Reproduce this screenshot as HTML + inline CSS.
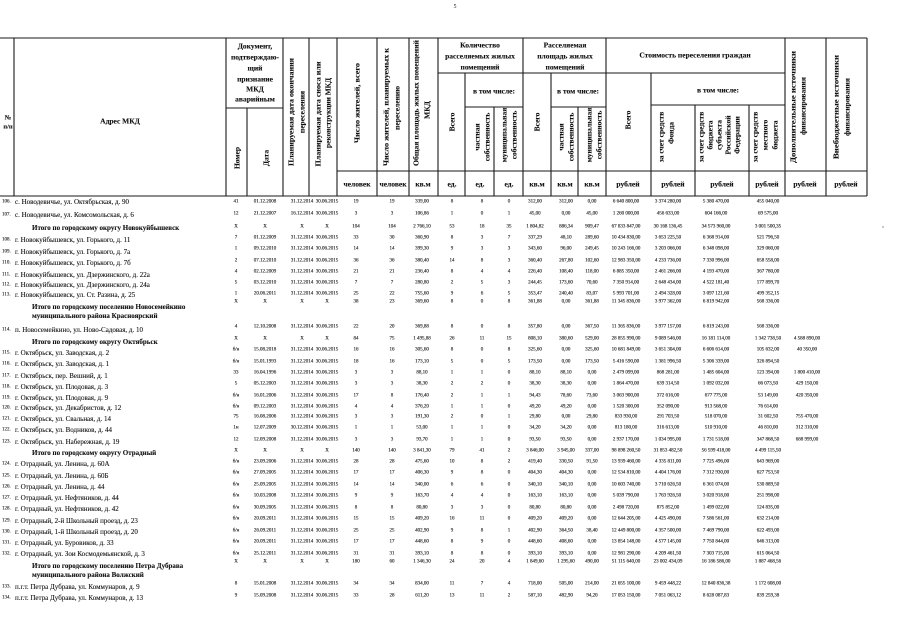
<!DOCTYPE html>
<html><head><meta charset="utf-8"><style>
html,body{margin:0;padding:0;background:#fff;}
svg{display:block;}
</style></head><body>
<svg width="905" height="640" viewBox="0 0 905 640" font-family="'Liberation Serif', serif">
<rect width="905" height="640" fill="#fff"/>
<text x="455" y="7" font-size="6" fill="#222" text-anchor="middle" dominant-baseline="central">5</text>

<!-- header lines -->
<g stroke="#1a1a1a" stroke-width="1.1" fill="none">
<line x1="0" y1="38" x2="867" y2="38"/>
<line x1="0" y1="196" x2="867" y2="196"/>
<line x1="337" y1="171" x2="867" y2="171"/>
<line x1="226" y1="108" x2="283" y2="108"/>
<line x1="438" y1="73" x2="785" y2="73"/>
<line x1="465" y1="107" x2="523" y2="107"/>
<line x1="551" y1="107" x2="606" y2="107"/>
<line x1="651" y1="105" x2="785" y2="105"/>
<line x1="14" y1="38" x2="14" y2="196"/>
<line x1="226" y1="38" x2="226" y2="196"/>
<line x1="283" y1="38" x2="283" y2="196"/>
<line x1="309" y1="38" x2="309" y2="196"/>
<line x1="337" y1="38" x2="337" y2="196"/>
<line x1="377" y1="38" x2="377" y2="196"/>
<line x1="409" y1="38" x2="409" y2="196"/>
<line x1="438" y1="38" x2="438" y2="196"/>
<line x1="523" y1="38" x2="523" y2="196"/>
<line x1="606" y1="38" x2="606" y2="196"/>
<line x1="785" y1="38" x2="785" y2="196"/>
<line x1="826" y1="38" x2="826" y2="196"/>
<line x1="867" y1="38" x2="867" y2="196"/>
<line x1="247" y1="108" x2="247" y2="196"/>
<line x1="465" y1="73" x2="465" y2="196"/>
<line x1="494" y1="107" x2="494" y2="196"/>
<line x1="551" y1="73" x2="551" y2="196"/>
<line x1="578" y1="107" x2="578" y2="196"/>
<line x1="651" y1="73" x2="651" y2="196"/>
<line x1="695" y1="105" x2="695" y2="196"/>
<line x1="749" y1="105" x2="749" y2="196"/>
</g>

<!-- header texts -->
<g font-weight="bold" font-size="7.5" fill="#111" text-anchor="middle" dominant-baseline="central" stroke="#111" stroke-width="0.12">
<text x="8" y="118" font-size="6.5">№</text>
<text x="8" y="127" font-size="6.5">п/п</text>
<text x="120" y="121">Адрес МКД</text>
<text x="255" y="46">Документ,</text>
<text x="255" y="57">подтверждаю-</text>
<text x="255" y="68">щий</text>
<text x="255" y="79">признание</text>
<text x="255" y="89">МКД</text>
<text x="255" y="99">аварийным</text>
<text transform="translate(237,158) rotate(-90)">Номер</text>
<text transform="translate(266,158) rotate(-90)">Дата</text>
<text transform="translate(291,112) rotate(-90)" textLength="108" lengthAdjust="spacingAndGlyphs">Планируемая дата  окончания</text>
<text transform="translate(302,112) rotate(-90)">переселения</text>
<text transform="translate(318,114) rotate(-90)" textLength="105" lengthAdjust="spacingAndGlyphs">Планируемая дата сноса или</text>
<text transform="translate(328,113) rotate(-90)" textLength="70" lengthAdjust="spacingAndGlyphs">реконструкции МКД</text>
<text transform="translate(357,103) rotate(-90)" textLength="80" lengthAdjust="spacingAndGlyphs">Число жителей, всего</text>
<text transform="translate(386,107) rotate(-90)" textLength="118" lengthAdjust="spacingAndGlyphs">Число жителей, планируемых к</text>
<text transform="translate(397,108) rotate(-90)">переселению</text>
<text transform="translate(416,103) rotate(-90)" textLength="126" lengthAdjust="spacingAndGlyphs">Общая площадь жилых помещений</text>
<text transform="translate(427,110) rotate(-90)">МКД</text>

<text x="480" y="45">Количество</text>
<text x="480" y="56">расселяемых жилых</text>
<text x="480" y="67">помещений</text>
<text transform="translate(452,122) rotate(-90)">Всего</text>
<text x="494" y="91">в том числе:</text>
<text transform="translate(477,137) rotate(-90)">частная</text>
<text transform="translate(487,137) rotate(-90)">собственность</text>
<text transform="translate(504,135) rotate(-90)">муниципальная</text>
<text transform="translate(514,135) rotate(-90)">собственность</text>

<text x="565" y="45">Расселяемая</text>
<text x="565" y="56">площадь жилых</text>
<text x="565" y="67">помещений</text>
<text transform="translate(537,122) rotate(-90)">Всего</text>
<text x="578" y="91">в том числе:</text>
<text transform="translate(561,137) rotate(-90)">частная</text>
<text transform="translate(571,137) rotate(-90)">собственность</text>
<text transform="translate(589,135) rotate(-90)">муниципальная</text>
<text transform="translate(599,135) rotate(-90)">собственность</text>

<text x="695" y="55">Стоимость переселения граждан</text>
<text transform="translate(628,120) rotate(-90)">Всего</text>
<text x="718" y="90">в том числе:</text>
<text transform="translate(661,137) rotate(-90)">за счет средств</text>
<text transform="translate(671,133) rotate(-90)">Фонда</text>
<text transform="translate(701,137) rotate(-90)">за счет средств</text>
<text transform="translate(710,135) rotate(-90)">бюджета</text>
<text transform="translate(719,135) rotate(-90)">субъекта</text>
<text transform="translate(728,135) rotate(-90)">Российской</text>
<text transform="translate(737,135) rotate(-90)">Федерации</text>
<text transform="translate(755,137) rotate(-90)">за счет средств</text>
<text transform="translate(765,135) rotate(-90)">местного</text>
<text transform="translate(775,135) rotate(-90)">бюджета</text>
<text transform="translate(793,107) rotate(-90)" textLength="112" lengthAdjust="spacingAndGlyphs">Дополнительные источники</text>
<text transform="translate(803,106) rotate(-90)">финансирования</text>
<text transform="translate(836,107) rotate(-90)" textLength="104" lengthAdjust="spacingAndGlyphs">Внебюджетные источники</text>
<text transform="translate(847,107) rotate(-90)">финансирования</text>

<g font-size="7.5">
<text x="357" y="184">человек</text>
<text x="393" y="184">человек</text>
<text x="423" y="184">кв.м</text>
<text x="452" y="184">ед.</text>
<text x="480" y="184">ед.</text>
<text x="509" y="184">ед.</text>
<text x="537" y="184">кв.м</text>
<text x="565" y="184">кв.м</text>
<text x="592" y="184">кв.м</text>
<text x="628" y="184">рублей</text>
<text x="673" y="184">рублей</text>
<text x="722" y="184">рублей</text>
<text x="767" y="184">рублей</text>
<text x="805" y="184">рублей</text>
<text x="846" y="184">рублей</text>
</g>
</g>

<!-- address column -->
<g font-size="7" fill="#111" dominant-baseline="central" stroke="#111" stroke-width="0.1">
<g font-size="5"><text x="2" y="202">106.</text><text x="2" y="215">107.</text><text x="2" y="240">108.</text><text x="2" y="252">109.</text><text x="2" y="263">110.</text><text x="2" y="275">111.</text><text x="2" y="285">112.</text><text x="2" y="295">113.</text><text x="2" y="330">114.</text><text x="2" y="353">115.</text><text x="2" y="364">116.</text><text x="2" y="376">117.</text><text x="2" y="387">118.</text><text x="2" y="398">119.</text><text x="2" y="408">120.</text><text x="2" y="419">121.</text><text x="2" y="430">122.</text><text x="2" y="442">123.</text><text x="2" y="464">124.</text><text x="2" y="476">125.</text><text x="2" y="487">126.</text><text x="2" y="498">127.</text><text x="2" y="509">128.</text><text x="2" y="521">129.</text><text x="2" y="532">130.</text><text x="2" y="543">131.</text><text x="2" y="554">132.</text><text x="2" y="587">133.</text><text x="2" y="598">134.</text></g>
<text x="15" y="202">с. Новодевичье, ул. Октябрьская, д.  90</text>
<text x="15" y="215">с. Новодевичье, ул. Комсомольская, д. 6</text>
<text x="32" y="228" font-weight="bold">Итого по  городскому округу Новокуйбышевск</text>
<text x="15" y="240">г. Новокуйбышевск, ул.  Горького, д.  11</text>
<text x="15" y="252">г. Новокуйбышевск, ул. Горького, д.  7а</text>
<text x="15" y="263">г. Новокуйбышевск, ул. Горького, д.  7б</text>
<text x="15" y="275">г. Новокуйбышевск, ул. Дзержинского, д.  22а</text>
<text x="15" y="285">г. Новокуйбышевск, ул. Дзержинского, д. 24а</text>
<text x="15" y="295">г. Новокуйбышевск, ул.  Ст. Разина, д.  25</text>
<text x="32" y="307" font-weight="bold">Итого по городскому поселению Новосемейкино</text>
<text x="32" y="316" font-weight="bold">муниципального района Красноярский</text>
<text x="15" y="330">п. Новосемейкино, ул. Ново-Садовая, д.  10</text>
<text x="32" y="342" font-weight="bold">Итого по городскому округу Октябрьск</text>
<text x="15" y="353">г. Октябрьск, ул.  Заводская, д.  2</text>
<text x="15" y="364">г. Октябрьск, ул.  Заводская, д.  1</text>
<text x="15" y="376">г. Октябрьск, пер.  Вешний, д.  1</text>
<text x="15" y="387">г. Октябрьск, ул.  Плодовая, д.  3</text>
<text x="15" y="398">г. Октябрьск, ул.  Плодовая, д.  9</text>
<text x="15" y="408">г. Октябрьск, ул.  Декабристов, д. 12</text>
<text x="15" y="419">г. Октябрьск, ул.  Свальная, д.  14</text>
<text x="15" y="430">г. Октябрьск, ул.  Водников, д.  44</text>
<text x="15" y="442">г. Октябрьск, ул.  Набережная, д.  19</text>
<text x="32" y="453" font-weight="bold">Итого по городскому округу  Отрадный</text>
<text x="15" y="464">г. Отрадный, ул. Ленина, д.  60А</text>
<text x="15" y="476">г. Отрадный, ул. Ленина, д.  60Б</text>
<text x="15" y="487">г. Отрадный, ул.  Ленина, д.  44</text>
<text x="15" y="498">г. Отрадный, ул.  Нефтяников, д.  44</text>
<text x="15" y="509">г. Отрадный, ул.  Нефтяников, д.  42</text>
<text x="15" y="521">г. Отрадный, 2-й Школьный проезд, д.  23</text>
<text x="15" y="532">г. Отрадный, 1-й Школьный проезд, д.  20</text>
<text x="15" y="543">г. Отрадный, ул. Буровиков, д.  33</text>
<text x="15" y="554">г. Отрадный, ул. Зои Космодемьянской, д.  3</text>
<text x="32" y="566" font-weight="bold">Итого по городскому поселению Петра Дубрава</text>
<text x="32" y="575" font-weight="bold">муниципального района Волжский</text>
<text x="15" y="587">п.г.т. Петра Дубрава, ул. Коммунаров, д. 9</text>
<text x="15" y="598">п.г.т. Петра Дубрава, ул. Коммунаров, д. 13</text>
</g>

<!-- numeric data -->
<g font-size="5" fill="#151515" text-anchor="middle" dominant-baseline="central" stroke="#151515" stroke-width="0.12">
<g transform="translate(0,202)"><text x="236">41</text><text x="265">01.12.2008</text><text x="302">31.12.2014</text><text x="327">30.06.2015</text><text x="356">19</text><text x="392">19</text><text x="422">339,00</text><text x="452">8</text><text x="482">8</text><text x="509">0</text><text x="535">312,00</text><text x="566">312,00</text><text x="592">0,00</text><text x="626">6 640 800,00</text><text x="668">3 374 280,00</text><text x="716">5 380 470,00</text><text x="768">455 040,00</text></g>
<g transform="translate(0,214)"><text x="236">12</text><text x="265">21.12.2007</text><text x="302">16.12.2014</text><text x="327">30.06.2015</text><text x="356">3</text><text x="392">3</text><text x="422">106,86</text><text x="452">1</text><text x="482">0</text><text x="509">1</text><text x="535">45,00</text><text x="566">0,00</text><text x="592">45,00</text><text x="626">1 260 000,00</text><text x="668">456 633,00</text><text x="716">604 166,00</text><text x="768">69 575,00</text></g>
<g transform="translate(0,227)"><text x="236">X</text><text x="265">X</text><text x="302">X</text><text x="327">X</text><text x="356">104</text><text x="392">104</text><text x="422">2 766,10</text><text x="452">53</text><text x="482">18</text><text x="509">35</text><text x="535">1 804,82</text><text x="566">886,34</text><text x="592">909,47</text><text x="626">67 833 847,00</text><text x="668">30 168 136,45</text><text x="716">34 573 960,00</text><text x="768">3 001 500,35</text></g>
<g transform="translate(0,238)"><text x="236">7</text><text x="265">01.12.2009</text><text x="302">31.12.2014</text><text x="327">30.06.2015</text><text x="356">33</text><text x="392">30</text><text x="422">360,90</text><text x="452">8</text><text x="482">3</text><text x="509">7</text><text x="535">337,29</text><text x="566">48,10</text><text x="592">289,60</text><text x="626">10 434 830,00</text><text x="668">3 653 225,50</text><text x="716">6 368 914,00</text><text x="768">521 796,50</text></g>
<g transform="translate(0,249)"><text x="236">1</text><text x="265">09.12.2010</text><text x="302">31.12.2014</text><text x="327">30.06.2015</text><text x="356">14</text><text x="392">14</text><text x="422">399,30</text><text x="452">9</text><text x="482">3</text><text x="509">3</text><text x="535">343,60</text><text x="566">96,00</text><text x="592">249,45</text><text x="626">10 243 166,00</text><text x="668">3 203 066,00</text><text x="716">6 348 098,00</text><text x="768">329 060,00</text></g>
<g transform="translate(0,261)"><text x="236">2</text><text x="265">07.12.2010</text><text x="302">31.12.2014</text><text x="327">30.06.2015</text><text x="356">36</text><text x="392">36</text><text x="422">380,40</text><text x="452">14</text><text x="482">8</text><text x="509">3</text><text x="535">360,40</text><text x="566">267,80</text><text x="592">102,60</text><text x="626">12 983 350,00</text><text x="668">4 233 736,00</text><text x="716">7 330 996,00</text><text x="768">658 558,00</text></g>
<g transform="translate(0,272)"><text x="236">4</text><text x="265">02.12.2009</text><text x="302">31.12.2014</text><text x="327">30.06.2015</text><text x="356">21</text><text x="392">21</text><text x="422">236,40</text><text x="452">8</text><text x="482">4</text><text x="509">4</text><text x="535">226,40</text><text x="566">108,40</text><text x="592">118,00</text><text x="626">6 885 350,00</text><text x="668">2 461 266,00</text><text x="716">4 193 470,00</text><text x="768">367 780,00</text></g>
<g transform="translate(0,283)"><text x="236">5</text><text x="265">03.12.2010</text><text x="302">31.12.2014</text><text x="327">30.06.2015</text><text x="356">7</text><text x="392">7</text><text x="422">280,80</text><text x="452">2</text><text x="482">5</text><text x="509">3</text><text x="535">244,45</text><text x="566">173,60</text><text x="592">70,60</text><text x="626">7 350 914,00</text><text x="668">2 648 434,00</text><text x="716">4 522 181,40</text><text x="768">177 899,70</text></g>
<g transform="translate(0,294)"><text x="236">1</text><text x="265">20.06.2011</text><text x="302">31.12.2014</text><text x="327">30.06.2015</text><text x="356">25</text><text x="392">22</text><text x="422">755,60</text><text x="452">9</text><text x="482">6</text><text x="509">5</text><text x="535">353,47</text><text x="566">240,40</text><text x="592">83,07</text><text x="626">5 993 701,00</text><text x="668">2 494 328,00</text><text x="716">3 097 121,60</text><text x="768">499 352,15</text></g>
<g transform="translate(0,302)"><text x="236">X</text><text x="265">X</text><text x="302">X</text><text x="327">X</text><text x="356">38</text><text x="392">23</text><text x="422">369,60</text><text x="452">8</text><text x="482">0</text><text x="509">8</text><text x="535">361,88</text><text x="566">0,00</text><text x="592">361,88</text><text x="626">11 345 836,00</text><text x="668">3 977 362,00</text><text x="716">6 819 942,00</text><text x="768">568 336,00</text></g>
<g transform="translate(0,327)"><text x="236">4</text><text x="265">12.10.2008</text><text x="302">31.12.2014</text><text x="327">30.06.2015</text><text x="356">22</text><text x="392">20</text><text x="422">369,88</text><text x="452">8</text><text x="482">0</text><text x="509">8</text><text x="535">357,80</text><text x="566">0,00</text><text x="592">367,50</text><text x="626">11 365 836,00</text><text x="668">3 977 157,00</text><text x="716">6 819 243,00</text><text x="768">568 336,00</text></g>
<g transform="translate(0,339)"><text x="236">X</text><text x="265">X</text><text x="302">X</text><text x="327">X</text><text x="356">84</text><text x="392">75</text><text x="422">1 495,88</text><text x="452">26</text><text x="482">11</text><text x="509">15</text><text x="535">808,10</text><text x="566">380,60</text><text x="592">529,00</text><text x="626">28 855 990,00</text><text x="668">9 089 546,00</text><text x="716">16 181 114,00</text><text x="768">1 342 738,50</text><text x="807">4 588 890,00</text></g>
<g transform="translate(0,350)"><text x="236">б/н</text><text x="265">15.08.2018</text><text x="302">31.12.2014</text><text x="327">30.06.2015</text><text x="356">16</text><text x="392">16</text><text x="422">305,60</text><text x="452">8</text><text x="482">0</text><text x="509">8</text><text x="535">325,60</text><text x="566">0,00</text><text x="592">325,60</text><text x="626">10 681 849,00</text><text x="668">3 651 304,00</text><text x="716">6 606 614,00</text><text x="768">105 632,00</text><text x="807">40 350,00</text></g>
<g transform="translate(0,362)"><text x="236">б/н</text><text x="265">15.01.1993</text><text x="302">31.12.2014</text><text x="327">30.06.2015</text><text x="356">18</text><text x="392">16</text><text x="422">173,10</text><text x="452">5</text><text x="482">0</text><text x="509">5</text><text x="535">173,50</text><text x="566">0,00</text><text x="592">173,50</text><text x="626">5 416 590,00</text><text x="668">1 381 996,50</text><text x="716">5 306 339,00</text><text x="768">326 894,50</text></g>
<g transform="translate(0,373)"><text x="236">33</text><text x="265">16.04.1996</text><text x="302">31.12.2014</text><text x="327">30.06.2015</text><text x="356">3</text><text x="392">3</text><text x="422">88,10</text><text x="452">1</text><text x="482">1</text><text x="509">0</text><text x="535">88,10</text><text x="566">88,10</text><text x="592">0,00</text><text x="626">2 479 099,00</text><text x="668">868 281,00</text><text x="716">1 485 604,00</text><text x="768">123 394,00</text><text x="807">1 800 410,00</text></g>
<g transform="translate(0,384)"><text x="236">5</text><text x="265">05.12.2003</text><text x="302">31.12.2014</text><text x="327">30.06.2015</text><text x="356">3</text><text x="392">3</text><text x="422">38,30</text><text x="452">2</text><text x="482">2</text><text x="509">0</text><text x="535">38,30</text><text x="566">38,30</text><text x="592">0,00</text><text x="626">1 864 470,00</text><text x="668">639 314,50</text><text x="716">1 092 032,00</text><text x="768">66 073,50</text><text x="807">429 150,00</text></g>
<g transform="translate(0,396)"><text x="236">б/н</text><text x="265">16.01.2006</text><text x="302">31.12.2014</text><text x="327">30.06.2015</text><text x="356">17</text><text x="392">8</text><text x="422">176,40</text><text x="452">2</text><text x="482">1</text><text x="509">1</text><text x="535">94,43</text><text x="566">78,60</text><text x="592">73,60</text><text x="626">3 063 900,00</text><text x="668">372 616,00</text><text x="716">677 775,00</text><text x="768">53 149,00</text><text x="807">420 350,00</text></g>
<g transform="translate(0,407)"><text x="236">б/н</text><text x="265">09.12.2003</text><text x="302">31.12.2014</text><text x="327">30.06.2015</text><text x="356">4</text><text x="392">4</text><text x="422">376,20</text><text x="452">1</text><text x="482">1</text><text x="509">0</text><text x="535">49,20</text><text x="566">49,20</text><text x="592">0,00</text><text x="626">1 520 300,00</text><text x="668">352 090,00</text><text x="716">913 568,00</text><text x="768">76 614,00</text></g>
<g transform="translate(0,417)"><text x="236">75</text><text x="265">16.08.2006</text><text x="302">31.12.2014</text><text x="327">30.06.2015</text><text x="356">3</text><text x="392">3</text><text x="422">191,30</text><text x="452">2</text><text x="482">0</text><text x="509">1</text><text x="535">29,80</text><text x="566">0,00</text><text x="592">29,80</text><text x="626">833 930,00</text><text x="668">291 703,50</text><text x="716">518 070,00</text><text x="768">31 602,50</text><text x="807">755 470,00</text></g>
<g transform="translate(0,428)"><text x="236">1н</text><text x="265">12.07.2009</text><text x="302">30.12.2014</text><text x="327">30.06.2015</text><text x="356">1</text><text x="392">1</text><text x="422">53,00</text><text x="452">1</text><text x="482">1</text><text x="509">0</text><text x="535">34,20</text><text x="566">34,20</text><text x="592">0,00</text><text x="626">813 180,00</text><text x="668">316 613,00</text><text x="716">510 910,00</text><text x="768">46 810,00</text><text x="807">312 310,00</text></g>
<g transform="translate(0,440)"><text x="236">12</text><text x="265">12.09.2008</text><text x="302">31.12.2014</text><text x="327">30.06.2015</text><text x="356">3</text><text x="392">3</text><text x="422">93,70</text><text x="452">1</text><text x="482">1</text><text x="509">0</text><text x="535">93,50</text><text x="566">93,50</text><text x="592">0,00</text><text x="626">2 937 170,00</text><text x="668">1 034 995,00</text><text x="716">1 731 518,00</text><text x="768">347 868,50</text><text x="807">688 999,00</text></g>
<g transform="translate(0,451)"><text x="236">X</text><text x="265">X</text><text x="302">X</text><text x="327">X</text><text x="356">140</text><text x="392">140</text><text x="422">3 841,30</text><text x="452">79</text><text x="482">41</text><text x="509">2</text><text x="535">3 846,00</text><text x="566">3 945,00</text><text x="592">337,00</text><text x="626">98 898 260,50</text><text x="668">31 853 482,50</text><text x="716">56 599 418,00</text><text x="768">4 499 115,50</text></g>
<g transform="translate(0,462)"><text x="236">б/н</text><text x="265">23.09.2006</text><text x="302">31.12.2014</text><text x="327">30.06.2015</text><text x="356">28</text><text x="392">28</text><text x="422">475,60</text><text x="452">10</text><text x="482">8</text><text x="509">2</text><text x="535">419,40</text><text x="566">330,50</text><text x="592">91,50</text><text x="626">13 939 460,00</text><text x="668">4 335 811,00</text><text x="716">7 725 496,00</text><text x="768">643 969,00</text></g>
<g transform="translate(0,473)"><text x="236">б/н</text><text x="265">27.09.2005</text><text x="302">31.12.2014</text><text x="327">30.06.2015</text><text x="356">17</text><text x="392">17</text><text x="422">406,30</text><text x="452">9</text><text x="482">8</text><text x="509">0</text><text x="535">404,30</text><text x="566">404,30</text><text x="592">0,00</text><text x="626">12 534 810,00</text><text x="668">4 404 176,00</text><text x="716">7 312 930,00</text><text x="768">627 753,50</text></g>
<g transform="translate(0,485)"><text x="236">б/н</text><text x="265">25.09.2005</text><text x="302">31.12.2014</text><text x="327">30.06.2015</text><text x="356">14</text><text x="392">14</text><text x="422">340,00</text><text x="452">6</text><text x="482">6</text><text x="509">0</text><text x="535">340,10</text><text x="566">340,10</text><text x="592">0,00</text><text x="626">10 603 740,00</text><text x="668">3 710 626,50</text><text x="716">6 361 074,00</text><text x="768">530 889,50</text></g>
<g transform="translate(0,496)"><text x="236">б/н</text><text x="265">10.03.2008</text><text x="302">31.12.2014</text><text x="327">30.06.2015</text><text x="356">9</text><text x="392">9</text><text x="422">163,70</text><text x="452">4</text><text x="482">4</text><text x="509">0</text><text x="535">163,10</text><text x="566">163,10</text><text x="592">0,00</text><text x="626">5 039 790,00</text><text x="668">1 763 926,50</text><text x="716">3 020 918,00</text><text x="768">251 998,00</text></g>
<g transform="translate(0,508)"><text x="236">б/н</text><text x="265">30.09.2005</text><text x="302">31.12.2014</text><text x="327">30.06.2015</text><text x="356">8</text><text x="392">8</text><text x="422">80,80</text><text x="452">3</text><text x="482">3</text><text x="509">0</text><text x="535">80,80</text><text x="566">80,80</text><text x="592">0,00</text><text x="626">2 498 720,00</text><text x="668">875 852,00</text><text x="716">1 499 022,00</text><text x="768">124 835,00</text></g>
<g transform="translate(0,519)"><text x="236">б/н</text><text x="265">20.09.2011</text><text x="302">31.12.2014</text><text x="327">30.06.2015</text><text x="356">15</text><text x="392">15</text><text x="422">409,20</text><text x="452">16</text><text x="482">11</text><text x="509">0</text><text x="535">409,20</text><text x="566">409,20</text><text x="592">0,00</text><text x="626">12 644 205,00</text><text x="668">4 425 490,00</text><text x="716">7 586 561,00</text><text x="768">632 214,00</text></g>
<g transform="translate(0,531)"><text x="236">б/н</text><text x="265">26.09.2011</text><text x="302">31.12.2014</text><text x="327">30.06.2015</text><text x="356">25</text><text x="392">25</text><text x="422">402,90</text><text x="452">9</text><text x="482">8</text><text x="509">1</text><text x="535">402,90</text><text x="566">364,50</text><text x="592">38,40</text><text x="626">12 449 800,00</text><text x="668">4 357 500,00</text><text x="716">7 469 790,00</text><text x="768">622 493,00</text></g>
<g transform="translate(0,542)"><text x="236">б/н</text><text x="265">20.09.2011</text><text x="302">31.12.2014</text><text x="327">30.06.2015</text><text x="356">17</text><text x="392">17</text><text x="422">448,60</text><text x="452">8</text><text x="482">9</text><text x="509">0</text><text x="535">448,60</text><text x="566">408,60</text><text x="592">0,00</text><text x="626">13 854 148,00</text><text x="668">4 577 145,00</text><text x="716">7 750 844,00</text><text x="768">646 313,00</text></g>
<g transform="translate(0,554)"><text x="236">б/н</text><text x="265">25.12.2011</text><text x="302">31.12.2014</text><text x="327">30.06.2015</text><text x="356">31</text><text x="392">31</text><text x="422">393,10</text><text x="452">8</text><text x="482">8</text><text x="509">0</text><text x="535">393,10</text><text x="566">393,10</text><text x="592">0,00</text><text x="626">12 981 290,00</text><text x="668">4 209 461,50</text><text x="716">7 303 715,00</text><text x="768">615 064,50</text></g>
<g transform="translate(0,562)"><text x="236">X</text><text x="265">X</text><text x="302">X</text><text x="327">X</text><text x="356">180</text><text x="392">60</text><text x="422">1 346,30</text><text x="452">24</text><text x="482">20</text><text x="509">4</text><text x="535">1 849,60</text><text x="566">1 295,60</text><text x="592">490,00</text><text x="626">51 115 640,00</text><text x="668">23 002 434,09</text><text x="716">16 186 586,00</text><text x="768">1 887 468,56</text></g>
<g transform="translate(0,584)"><text x="236">8</text><text x="265">15.01.2008</text><text x="302">31.12.2014</text><text x="327">30.06.2015</text><text x="356">34</text><text x="392">34</text><text x="422">834,00</text><text x="452">11</text><text x="482">7</text><text x="509">4</text><text x="535">718,00</text><text x="566">505,00</text><text x="592">214,00</text><text x="626">21 655 100,00</text><text x="668">9 459 448,22</text><text x="716">12 840 836,38</text><text x="768">1 172 608,00</text></g>
<g transform="translate(0,596)"><text x="236">9</text><text x="265">15.09.2008</text><text x="302">31.12.2014</text><text x="327">30.06.2015</text><text x="356">33</text><text x="392">28</text><text x="422">611,20</text><text x="452">13</text><text x="482">11</text><text x="509">2</text><text x="535">587,10</text><text x="566">482,90</text><text x="592">94,20</text><text x="626">17 053 150,00</text><text x="668">7 051 063,12</text><text x="716">8 628 087,83</text><text x="768">839 259,38</text></g>
</g>
<circle cx="883" cy="227" r="0.6" fill="#444"/>
</svg>
</body></html>
